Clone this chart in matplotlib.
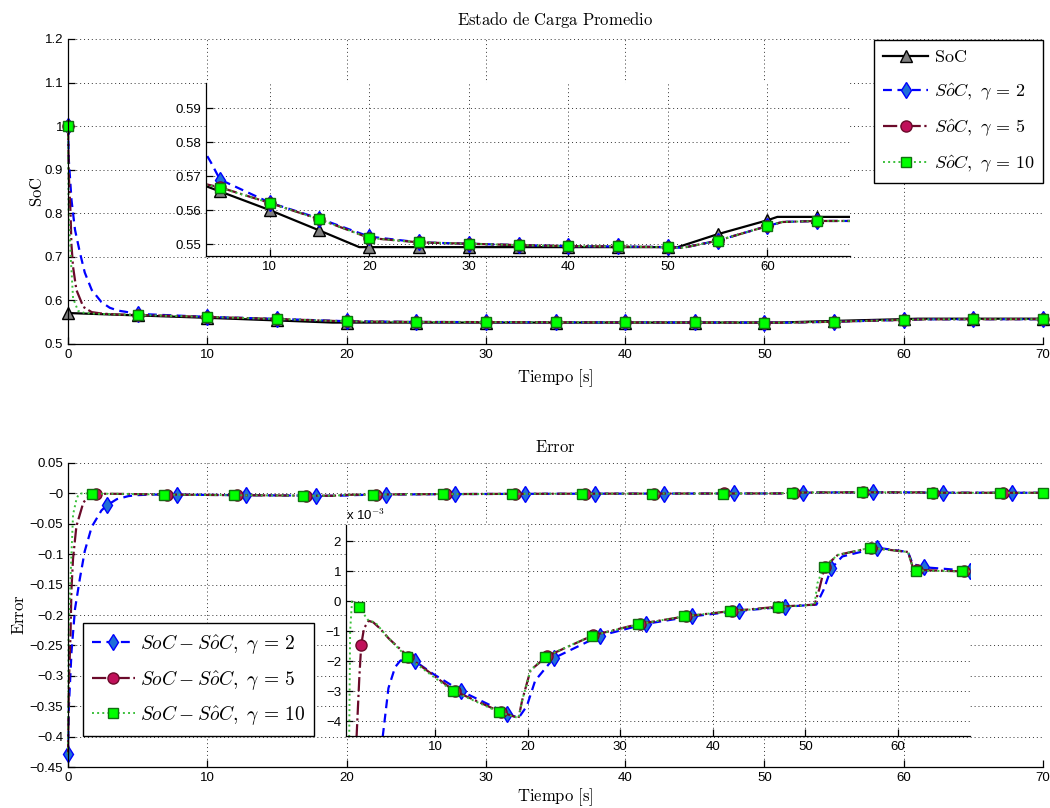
import numpy as np
import matplotlib.pyplot as plt
from matplotlib.ticker import FuncFormatter

plt.rcParams['mathtext.fontset'] = 'cm'
plt.rcParams['font.family'] = ['Liberation Sans', 'DejaVu Sans']
plt.rcParams['axes.unicode_minus'] = True

# ---- top: state of charge [s], [-]
t_soc = [0, 5, 10, 15, 19, 20, 25, 30, 35, 40, 45, 50, 51, 55, 60, 61, 65, 70]
soc = [0.5710, 0.5655, 0.5600, 0.5540, 0.5491, 0.5491, 0.5491, 0.5491, 0.5491,
       0.5491, 0.5491, 0.5491, 0.5491, 0.5529, 0.5570, 0.5580, 0.5580, 0.5580]

t_est2 = [0, 0.06, 0.25, 0.5, 0.85, 1.2, 1.7, 2.4, 3, 3.6, 4.1, 5, 10, 15, 20, 25,
          30, 35, 40, 45, 50, 51.5, 55, 60, 61.5, 65, 70]
est2 = [1.0, 0.92, 0.83, 0.762, 0.71, 0.664, 0.624, 0.596, 0.583, 0.5765, 0.574,
        0.569, 0.5622, 0.5575, 0.5522, 0.5505, 0.5501, 0.5497, 0.5494, 0.5493,
        0.5491, 0.5489, 0.5510, 0.5553, 0.5565, 0.5568, 0.5568]

t_est5 = [0, 0.06, 0.18, 0.24, 0.36, 0.6, 1.1, 1.7, 2.5, 3.6, 5, 10, 15, 20, 25,
          30, 35, 40, 45, 50, 51.5, 55, 60, 61.5, 65, 70]
est5 = [1.0, 0.884, 0.80, 0.73, 0.677, 0.624, 0.585, 0.573, 0.5695, 0.5676, 0.5667,
        0.5621, 0.5573, 0.5518, 0.5505, 0.5501, 0.5497, 0.5494, 0.5493, 0.5491,
        0.5489, 0.5510, 0.5553, 0.5565, 0.5568, 0.5568]

t_est10 = [0, 0.04, 0.21, 0.36, 0.72, 1.2, 2, 3.6, 5, 10, 15, 20, 25, 30, 35, 40,
           45, 50, 51.5, 55, 60, 61.5, 65, 70]
est10 = [1.0, 0.807, 0.69, 0.605, 0.576, 0.571, 0.5695, 0.5674, 0.5666, 0.5621,
         0.5573, 0.5518, 0.5505, 0.5501, 0.5497, 0.5494, 0.5493, 0.5491, 0.5489,
         0.5510, 0.5553, 0.5565, 0.5568, 0.5568]

mk_top = [0, 5, 10, 15, 20, 25, 30, 35, 40, 45, 50, 55, 60, 65, 70]

# ---- bottom: error SoC - estimate
t_err2 = [0, 0.06, 0.25, 0.5, 0.85, 1.2, 1.7, 2.4, 2.8, 3.5, 4.33, 4.94, 5.66, 6.2,
          6.9, 7.8, 9.8, 12.8, 17.8, 19.0, 19.9, 20.8, 22.8, 27.8, 32.8, 37.8,
          42.8, 47.8, 51.2, 52.0, 52.8, 54.0, 57.8, 61.1, 61.6, 62.8, 67.8, 70]
err2 = [-0.429, -0.35, -0.26, -0.19, -0.14, -0.095, -0.055, -0.028, -0.0195,
        -0.0095, -0.0045, -0.0029, -0.0022, -0.00199, -0.00187, -0.0020, -0.00243,
        -0.0030, -0.00375, -0.0039, -0.0035, -0.00265, -0.0019, -0.00115, -0.00075,
        -0.0005, -0.00032, -0.00018, -0.00011, 0.0004, 0.0011, 0.0015, 0.00179,
        0.00165, 0.00125, 0.00114, 0.00102, 0.0010]

t_err5 = [0, 0.06, 0.18, 0.24, 0.36, 0.6, 1.1, 1.5, 1.8, 2.0, 2.3, 2.8, 3.3, 4.0,
          5.0, 7.1, 12.1, 17.1, 19.0, 19.4, 20.3, 22.1, 27.1, 32.1, 37.1, 42.1,
          47.1, 51.0, 51.5, 52.1, 53.5, 57.1, 61.1, 61.6, 62.1, 67.1, 70]
err5 = [-0.429, -0.313, -0.23, -0.16, -0.107, -0.054, -0.015, -0.0045, -0.0025,
        -0.00145, -0.0009, -0.00065, -0.0007, -0.0009, -0.00125, -0.00185, -0.0030,
        -0.0037, -0.0039, -0.0033, -0.0023, -0.00183, -0.00113, -0.00075, -0.0005,
        -0.00032, -0.00018, -0.00011, 0.0004, 0.00115, 0.00155, 0.00179, 0.00165,
        0.00116, 0.00105, 0.0010, 0.0010]

t_err10 = [0, 0.04, 0.21, 0.36, 0.6, 0.7, 0.8, 1.0, 1.2, 1.75, 2.8, 3.5, 5.0, 6.9,
           11.9, 16.9, 19.0, 19.4, 20.3, 21.9, 26.9, 31.9, 36.9, 41.9, 47.0, 51.0,
           51.3, 52.0, 53.5, 57.0, 61.1, 61.6, 62.0, 66.9, 70]
err10 = [-0.429, -0.236, -0.12, -0.035, -0.01, -0.0045, -0.001, 0.0, 0.0, -0.0002,
         -0.00065, -0.0007, -0.00125, -0.00185, -0.0030, -0.0037, -0.0039, -0.0033,
         -0.0023, -0.00185, -0.00115, -0.00077, -0.0005, -0.00033, -0.0002,
         -0.00011, 0.0006, 0.00116, 0.00155, 0.00179, 0.00165, 0.00115, 0.00103,
         0.0010, 0.0010]

mk_err2 = [0, 2.8, 7.8, 12.8, 17.8, 22.8, 27.8, 32.8, 37.8, 42.8, 47.8, 52.8, 57.8, 62.8, 67.8]
mk_err5 = [2.0, 7.1, 12.1, 17.1, 22.1, 27.1, 32.1, 37.1, 42.1, 47.1, 52.1, 57.1, 62.1, 67.1]
mk_err10 = [1.75, 6.9, 11.9, 16.9, 21.9, 26.9, 31.9, 36.9, 41.9, 47.0, 52.0, 57.0, 62.0, 66.9, 70]

# styles
st_soc = dict(color='k', ls='-', lw=1.6, marker='^', mfc='0.5', mec='k', ms=8)
st2 = dict(color='b', ls=(0, (4, 2.5)), lw=1.6, marker='d', mfc='#1f6fd8', mec='b', ms=8)
st5 = dict(color='#6b0a2a', ls='-.', lw=1.6, marker='o', mfc='#c0105a', mec='#6b0a2a', ms=8)
st10 = dict(color='#3cc03c', ls=':', lw=1.4, marker='s', mfc='#00ff00', mec='#107010', ms=7)


def curve(ax, t, v, mk, st, scale=1.0, label=None):
    t = np.array(t)
    idx = list(np.where(np.isin(np.round(t, 3), np.round(mk, 3)))[0])
    return ax.plot(t, np.array(v) * scale, markevery=idx, label=label, **st)[0]


def style(ax):
    for s in ['top', 'right']:
        ax.spines[s].set_visible(False)
    for s in ['left', 'bottom']:
        ax.spines[s].set_linewidth(0.9)
    ax.tick_params(direction='in', length=5, width=0.9, labelsize=9.5)
    ax.grid(True, ls=(0, (1, 3)), color='0.2', lw=0.7)
    ax.set_axisbelow(True)


fmt = FuncFormatter(lambda v, p: ('%g' % round(v, 6)).replace('-', '\u2212'))

fig = plt.figure(figsize=(10.5, 8.08), dpi=100)

# ---- top main axes
ax1 = fig.add_axes([0.0648, 0.5743, 0.9286, 0.3775])
style(ax1)
h0 = curve(ax1, t_soc, soc, mk_top, st_soc, label=r'$\mathrm{SoC}$')
h1 = curve(ax1, t_est2, est2, mk_top, st2, label=r'$S\hat{o}C,\ \gamma\,=\,2$')
h2 = curve(ax1, t_est5, est5, mk_top, st5, label=r'$S\hat{o}C,\ \gamma\,=\,5$')
h3 = curve(ax1, t_est10, est10, mk_top, st10, label=r'$S\hat{o}C,\ \gamma\,=\,10$')
for h in (h0, h1, h2, h3):
    h.set_clip_on(False)
ax1.set_xlim(0, 70)
ax1.set_ylim(0.5, 1.2)
ax1.set_xticks(np.arange(0, 71, 10))
ax1.set_yticks(np.arange(0.5, 1.21, 0.1))
ax1.yaxis.set_major_formatter(fmt)
ax1.set_title(r'$\mathrm{Estado\ de\ Carga\ Promedio}$', fontsize=12, pad=10)
ax1.set_xlabel(r'$\mathrm{Tiempo\ [s]}$', fontsize=12, labelpad=5)
ax1.set_ylabel(r'$\mathrm{SoC}$', fontsize=12, labelpad=0)
leg1 = ax1.legend(loc='upper right', bbox_to_anchor=(1.0, 0.997), fontsize=13,
                  handlelength=2.5, labelspacing=0.85, borderpad=0.5,
                  handletextpad=0.3, fancybox=False, edgecolor='k', framealpha=1,
                  borderaxespad=0)
leg1.get_frame().set_linewidth(1.0)
leg1.set_zorder(20)

# top inset
ax1i = fig.add_axes([0.1962, 0.6832, 0.6133, 0.2141], zorder=5)
style(ax1i)
curve(ax1i, t_soc, soc, mk_top, st_soc)
curve(ax1i, t_est2, est2, mk_top, st2)
curve(ax1i, t_est5, est5, mk_top, st5)
curve(ax1i, t_est10, est10, mk_top, st10)
ax1i.set_xlim(3.6, 68.3)
ax1i.set_ylim(0.5465, 0.5974)
ax1i.set_xticks(np.arange(10, 61, 10))
ax1i.set_yticks([0.55, 0.56, 0.57, 0.58, 0.59])
ax1i.yaxis.set_major_formatter(fmt)

# ---- bottom main axes
ax2 = fig.add_axes([0.0648, 0.0507, 0.9286, 0.3763])
style(ax2)
g1 = curve(ax2, t_err2, err2, mk_err2, st2, label=r'$SoC-S\hat{o}C,\ \gamma\,=\,2$')
g2 = curve(ax2, t_err5, err5, mk_err5, st5, label=r'$SoC-S\hat{o}C,\ \gamma\,=\,5$')
g3 = curve(ax2, t_err10, err10, mk_err10, st10, label=r'$SoC-S\hat{o}C,\ \gamma\,=\,10$')
for h in (g1, g2, g3):
    h.set_clip_on(False)
ax2.set_xlim(0, 70)
ax2.set_ylim(-0.45, 0.05)
ax2.set_xticks(np.arange(0, 71, 10))
ax2.set_yticks(np.arange(-0.45, 0.051, 0.05))
ax2.yaxis.set_major_formatter(fmt)
ax2.set_title(r'$\mathrm{Error}$', fontsize=12, pad=8)
ax2.set_xlabel(r'$\mathrm{Tiempo\ [s]}$', fontsize=12, labelpad=2)
ax2.set_ylabel(r'$\mathrm{Error}$', fontsize=12, labelpad=2)
leg2 = ax2.legend(loc='lower left', bbox_to_anchor=(0.0154, 0.102), fontsize=14,
                  handlelength=2.2, labelspacing=0.6, borderpad=0.45,
                  handletextpad=0.3, fancybox=False, edgecolor='k', framealpha=1,
                  borderaxespad=0)
leg2.get_frame().set_linewidth(1.0)
leg2.set_zorder(20)

# bottom inset (values shown in units of 1e-3)
ax2i = fig.add_axes([0.3295, 0.0891, 0.5943, 0.2611], zorder=5)
style(ax2i)
curve(ax2i, t_err2, err2, mk_err2, st2, scale=1e3)
curve(ax2i, t_err5, err5, mk_err5, st5, scale=1e3)
curve(ax2i, t_err10, err10, mk_err10, st10, scale=1e3)
ax2i.set_xlim(0.35, 67.8)
ax2i.set_ylim(-4.5, 2.55)
ax2i.set_xticks(np.arange(10, 61, 10))
ax2i.set_yticks(np.arange(-4, 2.1, 1))
ax2i.yaxis.set_major_formatter(fmt)
ax2i.text(0.0, 1.01, r'x 10$^{-3}$', transform=ax2i.transAxes, fontsize=9.5,
          ha='left', va='bottom')

fig.savefig('out.png', dpi=100)
